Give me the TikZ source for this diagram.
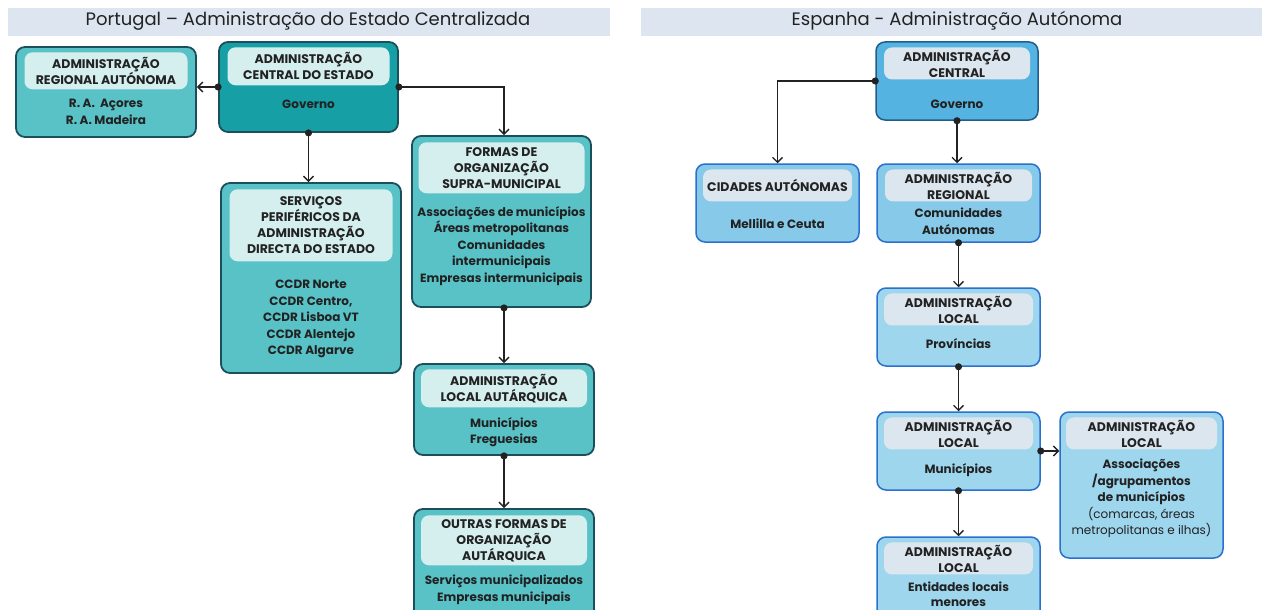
\documentclass[tikz,border=0pt]{standalone}
\usepackage{fontspec}
\setmainfont{Poppins}
\usepackage{tikz}
\usetikzlibrary{positioning,arrows.meta}
\definecolor{ink}{HTML}{222222}
\definecolor{titlebar}{HTML}{DCE5F0}
\definecolor{ptfill}{HTML}{58C2C7}
\definecolor{ptdark}{HTML}{179FA6}
\definecolor{ptline}{HTML}{1C4F5C}
\definecolor{pthead}{HTML}{D5EFEF}
\definecolor{esfill}{HTML}{86C9E9}
\definecolor{eslight}{HTML}{9ED6EE}
\definecolor{esdark}{HTML}{55B3E2}
\definecolor{esline}{HTML}{2A70CE}
\definecolor{eshead}{HTML}{DCE6EE}

\begin{document}
\begin{tikzpicture}[x=1pt,y=-1pt,
  every node/.style={text=ink},
  bar/.style={fill=titlebar,minimum height=28,anchor=north west,inner sep=0},
  bartext/.style={font=\fontsize{18}{20}\selectfont},
  ptbox/.style={draw=ptline,line width=1.8,rounded corners=9,fill=ptfill,inner sep=0},
  esbox/.style={draw=esline,line width=1.5,rounded corners=9,fill=eslight,inner sep=0},
  pthead/.style={fill=pthead,rounded corners=8,inner sep=0,align=center,
    font=\bfseries\fontsize{12.5}{16}\selectfont},
  eshead/.style={pthead,fill=eshead},
  body/.style={align=center,inner sep=0,font=\bfseries\fontsize{12}{16.5}\selectfont},
  link/.style={draw=ink,line width=1.4,{Circle[length=7pt]}-{Straight Barb[length=5pt,width=10pt]},
    shorten <=-3.5pt},
]
\clip (0,0) rectangle (1262,610);

% title bars
\node[bar,minimum width=602] (ptbar) at (8,8) {};
\node[bartext] (pttitle) at (308,21) {Portugal -- Administração do Estado Centralizada};
\node[bar,minimum width=621] (esbar) at (641,8) {};
\node[bartext] (estitle) at (957,21) {Espanha - Administração Autónoma};

% Portugal
\node[ptbox,minimum width=180,minimum height=90] (regaut) at (106,92) {};
\node[pthead,minimum width=163,minimum height=37,below=6pt of regaut.north] (regaut-h)
  {ADMINISTRAÇÃO\\REGIONAL AUTÓNOMA};
\node[body] (regaut-b) at (106,112) {R. A.\ \ Açores\\R. A. Madeira};

\node[ptbox,fill=ptdark,minimum width=179,minimum height=90] (central) at (308.5,87) {};
\node[pthead,minimum width=162,minimum height=38,below=6pt of central.north] (central-h)
  {ADMINISTRAÇÃO\\CENTRAL DO ESTADO};
\node[body] (central-b) at (308.5,104) {Governo};

\node[ptbox,minimum width=180,minimum height=190] (perif) at (311,278) {};
\node[pthead,minimum width=163,minimum height=72,below=7pt of perif.north] (perif-h)
  {SERVIÇOS\\PERIFÉRICOS DA\\ADMINISTRAÇÃO\\DIRECTA DO ESTADO};
\node[body] (perif-b) at (311,319) {CCDR Norte\\CCDR Centro,\\CCDR Lisboa VT\\CCDR Alentejo\\CCDR Algarve};

\node[ptbox,minimum width=179,minimum height=171] (supra) at (501.5,221.5) {};
\node[pthead,minimum width=166,minimum height=51,below=7pt of supra.north] (supra-h)
  {FORMAS DE\\ORGANIZAÇÃO\\SUPRA-MUNICIPAL};
\node[body] (supra-b) at (501.5,246) {Associações de municípios\\Áreas metropolitanas\\Comunidades\\intermunicipais\\Empresas intermunicipais};

\node[ptbox,minimum width=180,minimum height=91] (autarq) at (504,409.5) {};
\node[pthead,minimum width=166,minimum height=38,below=6pt of autarq.north] (autarq-h)
  {ADMINISTRAÇÃO\\LOCAL AUTÁRQUICA};
\node[body] (autarq-b) at (504,432) {Municípios\\Freguesias};

\node[ptbox,minimum width=180,minimum height=110] (outras) at (504,564) {};
\node[pthead,minimum width=166,minimum height=50,below=7pt of outras.north] (outras-h)
  {OUTRAS FORMAS DE\\ORGANIZAÇÃO\\AUTÁRQUICA};
\node[body] (outras-b) at (504,590) {Serviços municipalizados\\Empresas municipais};

\draw[link] (central.west) -- (central.west -| regaut.east);
\draw[link] (central.east) -| (autarq.north |- supra.north);
\draw[link] (central.south) -- (central.south |- perif.north);
\draw[link] (supra.south -| autarq.north) -- (autarq.north);
\draw[link] (autarq.south) -- (outras.north);

% Espanha
\node[esbox,draw=ptline!60!esline,fill=esdark,minimum width=162,minimum height=78] (ecentral) at (957,81) {};
\node[eshead,minimum width=146,minimum height=32,below=6pt of ecentral.north] (ecentral-h)
  {ADMINISTRAÇÃO\\CENTRAL};
\node[body] (ecentral-b) at (957,104) {Governo};

\node[esbox,fill=esfill,minimum width=163,minimum height=78] (cidades) at (777.5,203) {};
\node[eshead,minimum width=149,minimum height=32,below=6pt of cidades.north] (cidades-h)
  {CIDADES AUTÓNOMAS};
\node[body] (cidades-b) at (777.5,224) {Mellilla e Ceuta};

\node[esbox,fill=esfill,minimum width=163,minimum height=78] (eregional) at (958.5,203) {};
\node[eshead,minimum width=147,minimum height=32,below=6pt of eregional.north] (eregional-h)
  {ADMINISTRAÇÃO\\REGIONAL};
\node[body] (eregional-b) at (958.5,221) {Comunidades\\Autónomas};

\node[esbox,minimum width=163,minimum height=78] (provincias) at (958.5,327) {};
\node[eshead,minimum width=149,minimum height=32,below=6pt of provincias.north] (provincias-h)
  {ADMINISTRAÇÃO\\LOCAL};
\node[body] (provincias-b) at (958.5,344) {Províncias};

\node[esbox,minimum width=163,minimum height=78] (municipios) at (958.5,451) {};
\node[eshead,minimum width=149,minimum height=32,below=6pt of municipios.north] (municipios-h)
  {ADMINISTRAÇÃO\\LOCAL};
\node[body] (municipios-b) at (958.5,470) {Municípios};

\node[esbox,minimum width=163,minimum height=146] (assoc) at (1141.5,485) {};
\node[eshead,minimum width=151,minimum height=32,below=6pt of assoc.north] (assoc-h)
  {ADMINISTRAÇÃO\\LOCAL};
\node[body] (assoc-b) at (1141.5,498.5) {Associações\\/agrupamentos\\de municípios\\
  \mdseries(comarcas, áreas\\\mdseries metropolitanas e ilhas)};

\node[esbox,minimum width=163,minimum height=90] (entidades) at (958.5,582) {};
\node[eshead,minimum width=149,minimum height=32,below=6pt of entidades.north] (entidades-h)
  {ADMINISTRAÇÃO\\LOCAL};
\node[body,font=\bfseries\fontsize{12}{15}\selectfont] (entidades-b) at (958.5,594) {Entidades locais\\menores};

\draw[link] (ecentral.west) -| (cidades.north);
\draw[link] (ecentral.south) -- (ecentral.south |- eregional.north);
\draw[link] (eregional.south) -- (provincias.north);
\draw[link] (provincias.south) -- (municipios.north);
\draw[link] (municipios.east) -- (municipios.east -| assoc.west);
\draw[link] (municipios.south) -- (entidades.north);
\end{tikzpicture}
\end{document}
